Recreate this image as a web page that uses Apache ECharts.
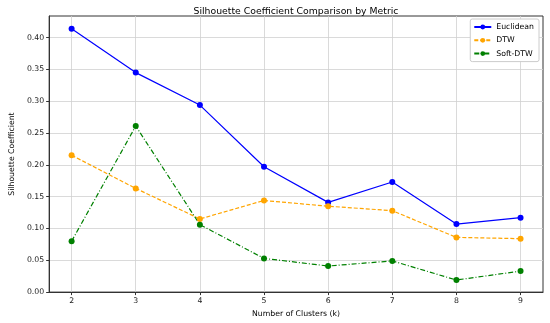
<!DOCTYPE html>
<html><head><meta charset="utf-8">
<script src="https://cdn.jsdelivr.net/npm/echarts@6/dist/echarts.min.js"></script>
<style>html,body{margin:0;padding:0;background:#fff}#c{width:550px;height:323px}</style>
</head><body><div id="c"></div>
<script>
const clusters = [2, 3, 4, 5, 6, 7, 8, 9];
const euclidean = [0.414, 0.345, 0.294, 0.197, 0.141, 0.173, 0.107, 0.117];
const dtw = [0.215, 0.163, 0.115, 0.144, 0.135, 0.128, 0.086, 0.084];
const softDtw = [0.080, 0.261, 0.106, 0.053, 0.041, 0.049, 0.019, 0.033];
const yTicks = [0, 0.05, 0.10, 0.15, 0.20, 0.25, 0.30, 0.35, 0.40];

const font = 'DejaVu Sans';
const chart = echarts.init(document.getElementById('c'), null, {renderer: 'canvas'});
const pair = a => clusters.map((k, i) => [k, a[i]]);
const mk = (name, data, color, type) => ({
  name, type: 'line', data: pair(data), symbol: 'circle', symbolSize: 6,
  itemStyle: {color}, lineStyle: {color, width: 1.2, type},
  emphasis: {disabled: true}, animation: false
});
chart.setOption({
  animation: false,
  textStyle: {fontFamily: font},
  title: {text: 'Silhouette Coefficient Comparison by Metric', left: 291, textAlign: 'center', top: 2,
    textStyle: {fontFamily: font, fontSize: 9.3, fontWeight: 'normal', color: '#000'}},
  grid: {left: 38, right: 7, top: 16, bottom: 27, show: true, borderColor: '#333', borderWidth: 1},
  legend: {
    orient: 'vertical', right: 11, top: 19, itemWidth: 17, itemHeight: 6, itemGap: 5.3,
    padding: [4, 5, 4, 3], backgroundColor: '#fff', borderColor: '#ccc', borderWidth: 1, borderRadius: 2,
    textStyle: {fontFamily: font, fontSize: 7.75, color: '#000'},
    data: ['Euclidean', 'DTW', 'Soft-DTW']
  },
  xAxis: {
    type: 'value', min: 1.65, max: 9.35,
    name: 'Number of Clusters (k)', nameLocation: 'middle', nameGap: 16,
    nameTextStyle: {fontFamily: font, fontSize: 7.75, color: '#000'},
    axisLine: {show: true, lineStyle: {color: '#333'}},
    axisTick: {show: true, length: 3, customValues: clusters, lineStyle: {color: '#333'}},
    axisLabel: {customValues: clusters, fontSize: 7.75, color: '#222', margin: 5, fontFamily: font},
    splitLine: {show: true, lineStyle: {color: '#d0d0d0', width: 0.8}}
  },
  yAxis: {
    type: 'value', min: 0, max: 0.434,
    name: 'Silhouette Coefficient', nameLocation: 'middle', nameGap: 30, nameRotate: 90,
    nameTextStyle: {fontFamily: font, fontSize: 7.75, color: '#000'},
    axisLine: {show: true, lineStyle: {color: '#333'}},
    axisTick: {show: true, length: 3, customValues: yTicks, lineStyle: {color: '#333'}},
    axisLabel: {customValues: yTicks, fontSize: 7.75, color: '#222', margin: 5, fontFamily: font,
      formatter: v => v.toFixed(2)},
    splitLine: {show: true, lineStyle: {color: '#d0d0d0', width: 0.8}}
  },
  series: [
    mk('Euclidean', euclidean, '#0000ff', 'solid'),
    mk('DTW', dtw, '#ffa500', [4, 2]),
    mk('Soft-DTW', softDtw, '#008000', [5, 2, 1, 2])
  ]
});
</script></body></html>
